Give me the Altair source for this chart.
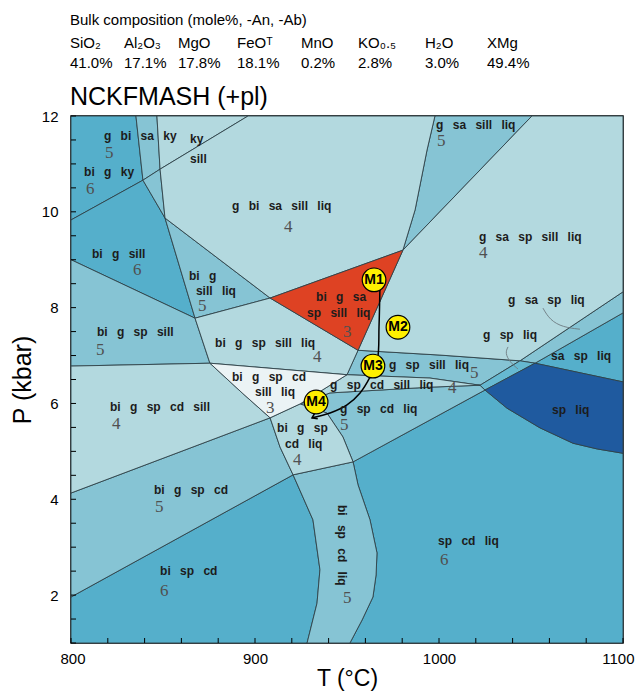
import altair as alt
import pandas as pd

W, H = 552, 527

# ---------------- header ----------------
hdr_title = "Bulk composition (mole%, -An, -Ab)"
ox_names = ["SiO₂", "Al₂O₃", "MgO", "FeOᵀ", "MnO", "KO₀.₅", "H₂O", "XMg"]
ox_values = ["41.0%", "17.1%", "17.8%", "18.1%", "0.2%", "2.8%", "3.0%", "49.4%"]
sys_title = "NCKFMASH (+pl)"
ox_col_px = [-1, 53, 107, 166, 230, 287, 354, 416]   # layout (pixels from plot left)

# ---------------- phase fields (T degC, P kbar) ----------------
f_bi_g_ky = [(800, 12), (835.3, 12), (839.1, 10.66), (800, 9.83)]
f_g_bi_sa_ky = [(835.3, 12), (846.7, 12), (848.4, 10.89), (839.1, 10.66)]
f_ky_field = [(846.7, 12), (896.2, 12), (848.4, 10.89)]
f_g_bi_sa_sill = [(839.1, 10.66), (848.4, 10.89), (851.1, 9.87)]
f_g_bi_sa_sill_liq = [(896.2, 12), (997.8, 12), (993.5, 11.29), (987, 10.04), (980.4, 9.2),
                      (908.2, 8.2), (851.1, 9.87), (848.4, 10.89)]
f_g_sa_sill_liq = [(997.8, 12), (1050.5, 12), (980.4, 9.2), (987, 10.04), (993.5, 11.29)]
f_g_sa_sp_sill_liq = [(1050.5, 12), (1100, 12), (1100, 8.33), (1044, 6.89), (1000.5, 7.01),
                      (956, 7.11), (980.4, 9.2)]
f_bi_g_sill = [(800, 9.83), (839.1, 10.66), (851.1, 9.87), (867.4, 7.78), (800, 9.0)]
f_bi_g_sill_liq = [(851.1, 9.87), (908.2, 8.2), (867.4, 7.78)]
f_bi_g_sa_sp_sill_liq = [(908.2, 8.2), (980.4, 9.2), (956, 7.11)]
f_bi_g_sp_sill = [(800, 9.0), (867.4, 7.78), (875.5, 6.84), (800, 6.78)]
f_bi_g_sp_sill_liq = [(867.4, 7.78), (908.2, 8.2), (956, 7.11), (950, 6.6), (875.5, 6.84)]
f_g_sp_sill_liq = [(956, 7.11), (1000.5, 7.01), (1044, 6.89), (1022.3, 6.38), (995.1, 6.53), (950, 6.6)]
f_g_sa_sp_liq = [(1044, 6.89), (1100, 8.33), (1100, 7.89), (1052.2, 6.84)]
f_sa_sp_liq = [(1052.2, 6.84), (1100, 7.89), (1100, 6.45)]
f_g_sp_liq = [(1022.3, 6.38), (1044, 6.89), (1052.2, 6.84), (1025, 6.28)]
f_sp_liq = [(1025, 6.28), (1052.2, 6.84), (1100, 6.45), (1100, 4.96), (1086, 5.05),
            (1072.8, 5.17), (1054.9, 5.49), (1037, 5.90)]
f_bi_g_sp_cd_sill_liq = [(875.5, 6.84), (950, 6.6), (924.5, 5.99), (908.2, 5.70), (893, 6.22)]
f_g_sp_cd_sill_liq = [(950, 6.6), (995.1, 6.53), (1022.3, 6.38), (995.1, 6.34), (940.8, 6.22), (924.5, 5.99)]
f_g_sp_cd_liq = [(924.5, 5.99), (940.8, 6.22), (995.1, 6.34), (1022.3, 6.38), (1025, 6.28),
                 (953.3, 4.78), (947.8, 5.30), (939.1, 5.80)]
f_bi_g_sp_cd_sill = [(800, 6.78), (875.5, 6.84), (893, 6.22), (908.2, 5.70), (800, 4.13)]
f_bi_g_sp_cd_liq = [(908.2, 5.70), (924.5, 5.99), (939.1, 5.80), (947.8, 5.30), (953.3, 4.78),
                    (920.7, 4.51), (913.6, 5.09)]
f_bi_g_sp_cd = [(800, 4.13), (908.2, 5.70), (913.6, 5.09), (920.7, 4.51), (800, 1.96)]
f_bi_sp_cd = [(800, 1.96), (920.7, 4.51), (931.5, 3.57), (935.3, 2.53), (933.7, 1.83),
              (928.3, 1.0), (800, 1.0)]
f_bi_sp_cd_liq = [(920.7, 4.51), (953.3, 4.78), (956, 4.30), (962.5, 3.57), (966.3, 2.88),
                  (965.8, 2.42), (964.1, 1.96), (958.2, 1.48), (951.6, 1.0), (928.3, 1.0),
                  (933.7, 1.83), (935.3, 2.53), (931.5, 3.57)]
f_sp_cd_liq = [(953.3, 4.78), (1025, 6.28), (1037, 5.90), (1054.9, 5.49), (1072.8, 5.17),
               (1086, 5.05), (1100, 4.96), (1100, 1.0), (951.6, 1.0), (958.2, 1.48), (964.1, 1.96),
               (965.8, 2.42), (966.3, 2.88), (962.5, 3.57), (956, 4.30)]

C_LIGHT, C_MED, C_DARK = "#b3d9df", "#86c4d4", "#55afcb"
C_GSPLIQ, C_WHITE, C_RED, C_BLUE = "#66b9d1", "#ebf3f5", "#de4223", "#1f5a9f"

fields = [
    ("bi_g_ky", f_bi_g_ky, C_DARK), ("g_bi_sa_ky", f_g_bi_sa_ky, C_MED),
    ("ky", f_ky_field, C_LIGHT), ("g_bi_sa_sill", f_g_bi_sa_sill, C_MED),
    ("g_bi_sa_sill_liq", f_g_bi_sa_sill_liq, C_LIGHT), ("g_sa_sill_liq", f_g_sa_sill_liq, C_MED),
    ("g_sa_sp_sill_liq", f_g_sa_sp_sill_liq, C_LIGHT), ("bi_g_sill", f_bi_g_sill, C_DARK),
    ("bi_g_sill_liq", f_bi_g_sill_liq, C_MED), ("bi_g_sa_sp_sill_liq", f_bi_g_sa_sp_sill_liq, C_RED),
    ("bi_g_sp_sill", f_bi_g_sp_sill, C_MED), ("bi_g_sp_sill_liq", f_bi_g_sp_sill_liq, C_LIGHT),
    ("g_sp_sill_liq", f_g_sp_sill_liq, C_MED), ("g_sa_sp_liq", f_g_sa_sp_liq, C_MED),
    ("sa_sp_liq", f_sa_sp_liq, C_DARK), ("g_sp_liq", f_g_sp_liq, C_GSPLIQ),
    ("sp_liq", f_sp_liq, C_BLUE), ("bi_g_sp_cd_sill_liq", f_bi_g_sp_cd_sill_liq, C_WHITE),
    ("g_sp_cd_sill_liq", f_g_sp_cd_sill_liq, C_LIGHT), ("g_sp_cd_liq", f_g_sp_cd_liq, C_MED),
    ("bi_g_sp_cd_sill", f_bi_g_sp_cd_sill, C_LIGHT), ("bi_g_sp_cd_liq", f_bi_g_sp_cd_liq, C_LIGHT),
    ("bi_g_sp_cd", f_bi_g_sp_cd, C_MED), ("bi_sp_cd", f_bi_sp_cd, C_DARK),
    ("bi_sp_cd_liq", f_bi_sp_cd_liq, C_MED), ("sp_cd_liq", f_sp_cd_liq, C_DARK),
]

# ---------------- labels ----------------
lab_text = ["g bi sa ky", "bi g ky", "ky", "sill", "g bi sa sill liq", "g sa sill liq",
            "g sa sp sill liq", "bi g sill", "bi g", "sill liq", "bi g sa", "sp sill liq",
            "g sa sp liq", "g sp liq", "sa sp liq", "sp liq", "bi g sp sill", "bi g sp sill liq",
            "g sp sill liq", "bi g sp cd", "sill liq", "g sp cd sill liq", "bi g sp cd sill",
            "g sp cd liq", "bi g sp", "cd liq", "bi g sp cd", "bi sp cd", "sp cd liq"]
lab_T = [817.9, 807.1, 864.7, 864.7, 887.5, 998.4, 1021.7, 811.4, 864.1, 867.9, 933.2, 928.3,
         1037.5, 1023.9, 1060.9, 1061.4, 814.1, 878.3, 972.8, 887.5, 900.0, 940.8, 821.2,
         946.2, 912.0, 916.3, 845.1, 848.4, 999.5]
lab_P = [11.58, 10.84, 11.52, 11.10, 10.12, 11.81, 9.47, 9.12, 8.66, 8.35, 8.22, 7.89,
         8.16, 7.43, 6.99, 5.86, 7.49, 7.26, 6.80, 6.55, 6.24, 6.38, 5.92, 5.88, 5.49, 5.15,
         4.19, 2.50, 3.13]

var_text = ["5", "6", "4", "5", "4", "6", "5", "3", "5", "4", "5", "3", "4", "4", "5", "4", "5", "6", "6", "5"]
var_T = [818.5, 808.2, 915.8, 998.9, 1021.7, 833.7, 869.0, 947.8, 813.6, 931.5, 1016.8, 906.0,
         1004.9, 822.3, 946.2, 920.7, 845.7, 848.4, 1000.5, 947.8]
var_P = [11.23, 10.47, 9.68, 11.48, 9.14, 8.79, 8.03, 7.50, 7.11, 6.97, 6.63, 5.90,
         6.32, 5.57, 5.55, 4.82, 3.84, 2.08, 2.73, 1.94]

rot_text = ["bi sp cd liq"]
rot_T = [947.3]
rot_P = [3.04]

# P-T path and points
path_T = [967.9, 967.4, 966.5, 962.5, 957.1, 950.0, 940.8, 931.0]
path_P = [8.45, 7.6, 6.91, 6.55, 6.22, 5.97, 5.80, 5.70]
m_names = ["M1", "M2", "M3", "M4"]
m_T = [964.7, 977.7, 964.1, 933.2]
m_P = [8.58, 7.59, 6.78, 6.03]

lead1_T = [1056.5, 1060.3, 1067.4, 1076.6]
lead1_P = [7.99, 7.74, 7.59, 7.55]
lead2_T = [1037.5, 1035.9, 1038.6, 1042.9]
lead2_P = [7.18, 7.05, 6.86, 6.72]

tick_T = list(range(800, 1101, 20))
tick_P = [1 + 0.5 * i for i in range(23)]

# ---------------- build ----------------
SANS = "Liberation Sans"
xs = alt.Scale(domain=[800, 1100], nice=False, zero=False)
ys = alt.Scale(domain=[1, 12], nice=False, zero=False)
xaxis = alt.Axis(values=[800, 900, 1000, 1100], tickSize=0, domain=False, grid=False, format="d",
                 labelFont=SANS, labelFontSize=15, labelColor="black", labelPadding=8,
                 labelFlush=True, labelFlushOffset=11,
                 title="T (°C)", titleFont=SANS, titleFontSize=23, titleFontWeight="normal",
                 titleColor="black", titlePadding=1)
yaxis = alt.Axis(values=[2, 4, 6, 8, 10, 12], tickSize=0, domain=False, grid=False, format="d",
                 labelFont=SANS, labelFontSize=15, labelColor="black", labelPadding=13,
                 labelFlush=False,
                 title="P (kbar)", titleFont=SANS, titleFontSize=25, titleFontWeight="normal",
                 titleColor="black", titlePadding=6)
X = alt.X("T:Q", scale=xs, axis=xaxis)
Y = alt.Y("P:Q", scale=ys, axis=yaxis)

rows = []
for name, pts, col in fields:
    for i, (t, p) in enumerate(pts):
        rows.append({"field": name, "col": col, "i": i, "T": t, "P": p})
poly = pd.DataFrame(rows)

layers = []
for col in poly["col"].unique():
    layers.append(
        alt.Chart(poly[poly["col"] == col]).mark_line(
            interpolate="linear-closed", fill=col, stroke="#2e4248", strokeWidth=0.9
        ).encode(x=X, y=Y, detail="field:N", order="i:Q")
    )

for lt, lp in [(lead1_T, lead1_P), (lead2_T, lead2_P)]:
    d = pd.DataFrame({"T": lt, "P": lp, "i": range(len(lt))})
    layers.append(alt.Chart(d).mark_line(interpolate="basis", color="#6d7b80", strokeWidth=0.9)
                  .encode(x=X, y=Y, order="i:Q"))

pdf = pd.DataFrame({"T": path_T, "P": path_P, "i": range(len(path_T))})
layers.append(alt.Chart(pdf).mark_line(interpolate="catmull-rom", color="black", strokeWidth=1.5)
              .encode(x=X, y=Y, order="i:Q"))
head = pd.DataFrame({"T": [path_T[-1]], "P": [path_P[-1]]})
layers.append(alt.Chart(head).mark_point(shape="M1,-0.7L0,0L1,0.7", filled=False, color="black",
                                         strokeWidth=1.6, size=90, angle=335, opacity=1)
              .encode(x=X, y=Y))

mdf = pd.DataFrame({"T": m_T, "P": m_P, "name": m_names})
layers.append(alt.Chart(mdf).mark_point(shape="circle", size=560, filled=True, fill="#fff000",
                                        stroke="black", strokeWidth=1.2, opacity=1)
              .encode(x=X, y=Y))
layers.append(alt.Chart(mdf).mark_text(font=SANS, fontWeight="bold", fontSize=14, color="black")
              .encode(x=X, y=Y, text="name:N"))

sp = " \u2002"
ldf = pd.DataFrame({"T": lab_T, "P": lab_P, "text": [s.replace(" ", sp) for s in lab_text]})
layers.append(alt.Chart(ldf).mark_text(align="left", baseline="middle", font=SANS, fontWeight="bold",
                                       fontSize=12, color="#1c1c1c")
              .encode(x=X, y=Y, text="text:N"))
vdf = pd.DataFrame({"T": var_T, "P": var_P, "text": var_text})
layers.append(alt.Chart(vdf).mark_text(align="left", baseline="middle", font="Liberation Serif",
                                       fontSize=17, color="#505050")
              .encode(x=X, y=Y, text="text:N"))
rdf = pd.DataFrame({"T": rot_T, "P": rot_P, "text": [s.replace(" ", sp) for s in rot_text]})
layers.append(alt.Chart(rdf).mark_text(align="center", baseline="middle", font=SANS, fontWeight="bold",
                                       fontSize=12, color="#1c1c1c", angle=90)
              .encode(x=X, y=Y, text="text:N"))

xt = pd.DataFrame({"T": tick_T})
layers.append(alt.Chart(xt).mark_rule(color="black", strokeWidth=1)
              .encode(x=X, y=alt.value(H - 5), y2=alt.value(H)))
yt = pd.DataFrame({"P": tick_P})
layers.append(alt.Chart(yt).mark_rule(color="black", strokeWidth=1)
              .encode(y=Y, x=alt.value(0), x2=alt.value(5)))

def htext(s, px, py, size):
    return alt.Chart(pd.DataFrame({"label": [s]})).mark_text(
        align="left", baseline="middle", font=SANS, fontSize=size, color="black"
    ).encode(text="label:N", x=alt.value(px), y=alt.value(py))

layers.append(htext(hdr_title, -1, -96, 15))
for nm, val, px in zip(ox_names, ox_values, ox_col_px):
    layers.append(htext(nm, px, -73, 15))
    layers.append(htext(val, px, -53, 15))
layers.append(htext(sys_title, -1, -19, 25))

chart = alt.layer(*layers).properties(
    width=W, height=H,
    padding={"left": 63, "top": 108, "right": 12, "bottom": 48},
    autosize=alt.AutoSizeParams(type="none"),
).configure_view(stroke="black", strokeWidth=1.5)

chart.save("out.html", embed_options={"renderer": "svg", "actions": False})
